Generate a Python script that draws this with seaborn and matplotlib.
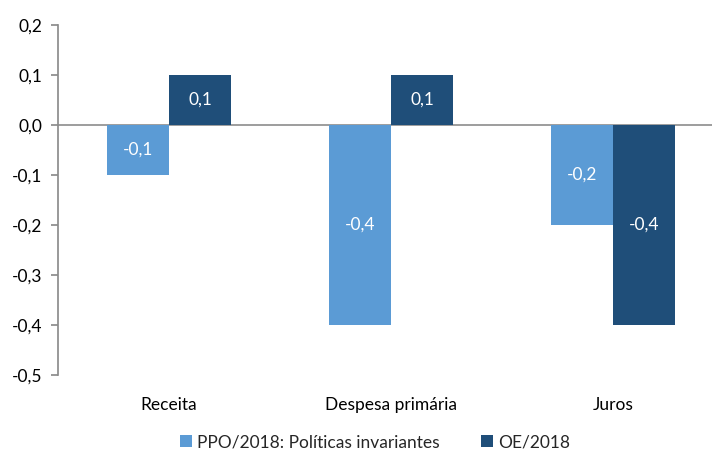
import matplotlib
matplotlib.use("Agg")
import matplotlib.pyplot as plt
import matplotlib.ticker as mticker
import seaborn as sns
import pandas as pd

# data
categorias = ["Receita", "Despesa primária", "Juros"]
series = ["PPO/2018: Políticas invariantes", "OE/2018"]
ppo_2018 = [-0.1, -0.4, -0.2]
oe_2018 = [0.1, 0.1, -0.4]
cores = ["#5B9BD5", "#1F4E79"]

df = pd.DataFrame({
    "categoria": categorias * 2,
    "serie": [series[0]] * 3 + [series[1]] * 3,
    "valor": ppo_2018 + oe_2018,
})

sns.set_theme(style="white")
plt.rcParams["font.family"] = ["Lato", "DejaVu Sans"]

fig = plt.figure(figsize=(7.12, 4.51), dpi=100)
ax = fig.add_axes([58 / 712, 1 - 375 / 451, 666 / 712, 350 / 451])

sns.barplot(data=df, x="categoria", y="valor", hue="serie", order=categorias,
            hue_order=series, palette=cores, width=0.56, saturation=1,
            errorbar=None, linewidth=0, ax=ax)

# value labels inside bars
for cont in ax.containers:
    labels = [f"{v:.1f}".replace(".", ",") for v in cont.datavalues]
    ax.bar_label(cont, labels=labels, label_type="center", color="white", fontsize=12.5)

ax.set_xlim(-0.5, 2.5)
ax.set_ylim(-0.5, 0.2)
ax.yaxis.set_major_locator(mticker.MultipleLocator(0.1))
ax.yaxis.set_major_formatter(mticker.FuncFormatter(lambda v, p: f"{v:.1f}".replace(".", ",").replace("-0,0", "0,0")))
ax.axhline(0, color="#8c8c8c", lw=1.2, zorder=0.5)

for s in ["top", "right", "bottom"]:
    ax.spines[s].set_visible(False)
ax.spines["left"].set_color("#8c8c8c")
ax.tick_params(axis="y", left=True, length=5, color="#8c8c8c", labelsize=12.5, labelcolor="black", pad=6)
ax.tick_params(axis="x", bottom=False, labelsize=12.5, labelcolor="black", pad=10)
ax.set_xlabel("")
ax.set_ylabel("")

ax.legend(loc="upper center", bbox_to_anchor=(0.476, -0.125), ncol=2,
          frameon=False, fontsize=12.5, handlelength=0.7, handleheight=0.7,
          handletextpad=0.3, columnspacing=2.4)

fig.savefig("out.png", dpi=100)
